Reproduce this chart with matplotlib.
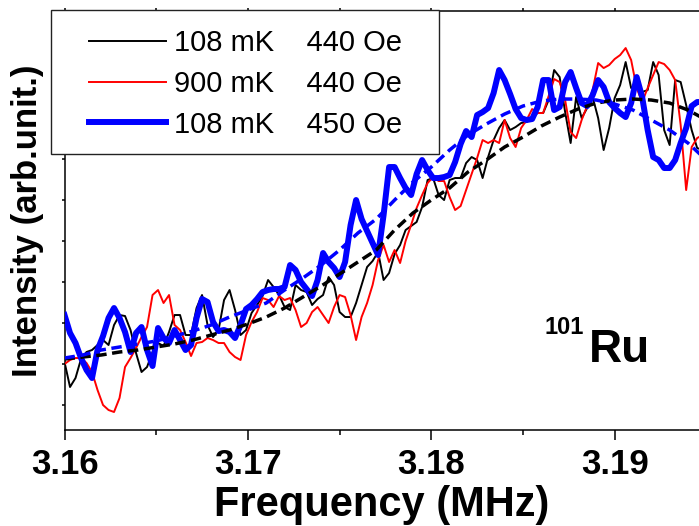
import matplotlib
matplotlib.use('Agg')
import matplotlib.pyplot as plt
import numpy as np
from matplotlib.patches import Rectangle
from matplotlib.ticker import MultipleLocator

plt.rcParams['font.family'] = ['Liberation Sans', 'DejaVu Sans']

# NMR spectra of 101Ru, intensity in arbitrary units, sweep step 0.3 kHz from 3.16 MHz
step = 0.0003
black_108mK_440Oe = [68, 43, 52, 71, 78, 80, 85, 90, 85, 105, 115, 114, 100, 77, 58, 63, 78, 87, 84, 98,
                     115, 115, 95, 95, 122, 135, 105, 93, 100, 130, 140, 120, 95, 100, 117, 125, 134, 150, 143, 135,
                     123, 120, 145, 140, 138, 125, 131, 135, 153, 145, 118, 113, 113, 127, 145, 163, 169, 178, 150, 157,
                     176, 185, 200, 204, 208, 223, 250, 252, 235, 230, 250, 252, 252, 267, 273, 270, 252, 273, 290, 302,
                     310, 300, 303, 307, 308, 313, 317, 317, 330, 360, 353, 318, 287, 333, 312, 322, 333, 312, 280, 302,
                     332, 345, 368, 342, 345, 338, 340, 368, 355, 300, 285, 350, 348, 325, 300, 282, 280]
red_900mK_440Oe = [66, 70, 72, 72, 67, 58, 40, 25, 20, 18, 32, 63, 72, 82, 93, 103, 135, 140, 127, 135,
                   105, 100, 88, 74, 87, 88, 92, 90, 87, 87, 78, 73, 70, 95, 108, 118, 132, 130, 123, 134,
                   130, 132, 120, 103, 107, 118, 123, 115, 107, 123, 135, 133, 115, 90, 113, 127, 145, 170, 185, 168,
                   180, 167, 189, 205, 222, 235, 247, 253, 249, 249, 233, 220, 224, 240, 256, 272, 290, 287, 290, 287,
                   310, 292, 283, 302, 310, 321, 317, 317, 334, 351, 348, 330, 298, 292, 310, 324, 340, 367, 362, 365,
                   371, 375, 382, 370, 342, 328, 342, 355, 368, 366, 360, 350, 305, 240, 283, 292, 295]
blue_108mK_450Oe = [115, 97, 87, 72, 60, 52, 80, 94, 112, 122, 112, 98, 78, 97, 103, 80, 64, 102, 92, 87,
                    100, 90, 80, 85, 112, 131, 128, 108, 99, 100, 98, 92, 105, 121, 125, 131, 138, 140, 141, 141,
                    143, 165, 160, 148, 141, 134, 150, 177, 168, 162, 153, 168, 205, 230, 211, 199, 187, 175, 215, 263,
                    263, 252, 242, 235, 256, 270, 260, 252, 252, 253, 255, 268, 286, 299, 293, 315, 318, 322, 337, 360,
                    350, 336, 321, 312, 310, 311, 323, 350, 350, 320, 323, 348, 358, 342, 327, 324, 335, 350, 343, 328,
                    322, 317, 313, 327, 353, 333, 300, 273, 270, 262, 262, 270, 287, 302, 324, 328, 328]

# fitted curves, 1 kHz step from 3.16 MHz
fit_step = 0.001
fit_black = [71, 73, 75, 78, 80, 83, 86, 90, 95, 100, 106, 113, 122, 133, 144, 156, 168, 180, 200, 217,
             230, 242, 258, 270, 283, 293, 304, 313, 321, 327, 330, 331, 330, 327, 320, 310]
fit_blue = [72, 75, 80, 83, 86, 89, 94, 99, 105, 113, 120, 127, 140, 152, 165, 180, 197, 211, 230, 248,
            263, 280, 295, 306, 316, 324, 329, 331, 331, 330, 326, 320, 310, 300, 287, 270]

legend_labels = ['108 mK    440 Oe', '900 mK    440 Oe', '108 mK    450 Oe']

freq = 3.16 + step * np.arange(len(black_108mK_440Oe))
fit_freq = 3.16 + fit_step * np.arange(len(fit_black))

fig = plt.figure(figsize=(6.99, 5.26), dpi=100)
ax = fig.add_axes([0.0923, 0.1825, 0.9077, 0.7965])

l1, = ax.plot(freq, black_108mK_440Oe, color='black', lw=1.4, zorder=3)
l2, = ax.plot(freq, red_900mK_440Oe, color='#ff0000', lw=1.4, zorder=3)
l3, = ax.plot(freq, blue_108mK_450Oe, color='#0000ff', lw=4.3, zorder=4, solid_joinstyle='round')
ax.plot(fit_freq, fit_black, color='black', lw=2.5, ls=(0, (3, 1.6)), zorder=5)
ax.plot(fit_freq, fit_blue, color='#0000ff', lw=2.5, ls=(0, (3, 1.6)), zorder=5)

ax.set_xlim(3.16, 3.1946)
ax.set_ylim(0, 419)
ax.xaxis.set_major_locator(MultipleLocator(0.01))
ax.xaxis.set_minor_locator(MultipleLocator(0.005))
ax.set_yticks([25, 66, 107, 148, 189, 230, 271, 312, 353, 394])
ax.set_yticklabels([])
ax.xaxis.set_major_formatter(matplotlib.ticker.FormatStrFormatter('%.2f'))

ax.spines['right'].set_visible(False)
for s in ['left', 'bottom', 'top']:
    ax.spines[s].set_linewidth(1.1)
ax.tick_params(axis='x', which='major', direction='out', length=7, width=1.1, pad=6,
               labelsize=25, top=True)
ax.tick_params(axis='x', which='minor', direction='out', length=3.5, width=1.1, top=True)
ax.tick_params(axis='x', which='both', labeltop=False)
ax.tick_params(axis='y', direction='out', length=2.5, width=1.1)
for t in ax.xaxis.get_major_ticks():
    t.tick2line.set_markersize(2.5)
for t in ax.xaxis.get_minor_ticks():
    t.tick2line.set_markersize(2.5)
for lab in ax.get_xticklabels():
    lab.set_fontweight('bold')

ax.set_xlabel('Frequency (MHz)', fontsize=30, fontweight='bold', labelpad=3)
ax.set_ylabel('Intensity (arb.unit.)', fontsize=25, fontweight='bold', labelpad=9)

ax.text(0.8266, 0.1623, 'Ru', transform=ax.transAxes, fontsize=33, fontweight='bold', va='baseline')
ax.text(0.757, 0.229, '101', transform=ax.transAxes, fontsize=17, fontweight='bold', va='baseline')

# legend frame sits over the axes corner
ax.add_patch(Rectangle((51 / 699, 1 - 154 / 526), 388 / 699, 144 / 526, transform=fig.transFigure,
                       facecolor='white', edgecolor='#222222', lw=1.0, clip_on=False, zorder=10))
leg = fig.legend([l1, l2, l3], legend_labels, loc='upper left', bbox_to_anchor=(89 / 699, 1 - 29 / 526),
                 frameon=False, fontsize=21, handlelength=2.65, handletextpad=0.25, labelspacing=0.44,
                 borderpad=0, borderaxespad=0)
leg.set_zorder(11)

fig.savefig('out.png', dpi=100)
